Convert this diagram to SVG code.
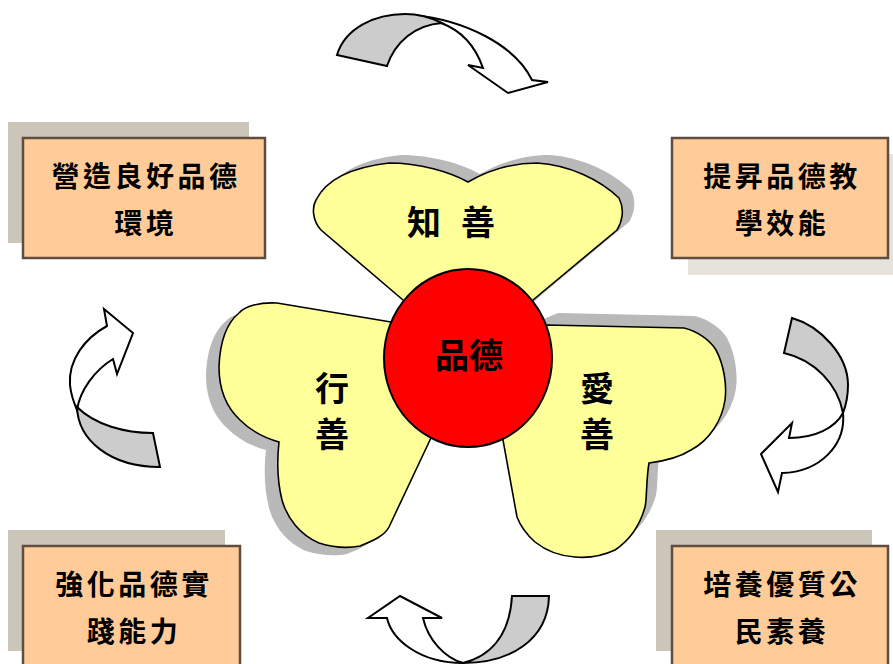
<svg xmlns="http://www.w3.org/2000/svg" xmlns:xlink="http://www.w3.org/1999/xlink" width="893" height="664" viewBox="0 0 893 664">
<style>
.box{fill:#FFCC99;stroke:#5f4e3f;stroke-width:2.5}
.sh1{fill:#ccc5b9}
.sh2{fill:#e6e3dd}
.bt{font-family:"Noto Sans CJK TC","Noto Sans CJK SC",sans-serif;font-weight:bold;font-size:28px;letter-spacing:3.5px;text-anchor:middle;dominant-baseline:central;fill:#000}
.pt{font-family:"Noto Sans CJK TC","Noto Sans CJK SC",sans-serif;font-weight:bold;font-size:34px;text-anchor:middle;dominant-baseline:central;fill:#000}
.petal{fill:#FFFF99;stroke:#000;stroke-width:1.6}
.psh{fill:#b9b9b9}
.ag{fill:#cccccc;stroke:#000;stroke-width:2;stroke-linejoin:miter}
.aw{fill:#ffffff;stroke:#000;stroke-width:2;stroke-linejoin:miter}
</style>
<defs>
<path id="pT" d="M403,300 L321,230 C312,220 312,207 316,200 C325,182 345,168 389,163 C420,163 450,172 468,182 C485,172 510,163 537,163 C570,165 600,180 619,198 C625,210 622,222 617,230 L533,300 L468,358 Z"/>
<path id="pL" d="M391,322 L277,303 C260,302 245,306 239,313 C228,322 220,340 219,367 C219,385 224,405 240,420 C252,432 265,438 279,442 C277,460 277,480 282,500 C287,518 300,535 319,543 C335,548 350,548 360,546 C375,540 385,535 389,527 L430,440 L468,358 Z"/>
<path id="pR" d="M547,325 L684,328 C697,331 710,340 716,350 C724,365 727,385 725,400 C722,420 710,440 691,450 C680,457 665,461 649,463 C646,480 647,500 645,507 C640,525 630,540 615,550 C600,557 585,558 575,557 C560,556 545,550 535,542 C525,533 520,525 517,517 L503,440 L468,358 Z"/>
</defs>

<g id="connectors">
  <g id="arrow-top">
    <path class="aw" d="M413,15 C465,20 515,45 532,80 L548,82 L508,93 L468,65 L483,68 C475,45 460,30 441,23 Z"/>
    <path class="ag" d="M337,55 C345,28 375,14 405,14 C420,14 432,18 442,23 C415,25 395,42 387,66 Z"/>
  </g>
  <g id="arrow-right">
    <path class="aw" d="M843,413 C846,445 820,472 782,473 L778,492 L761,454 L792,423 L789,438 C815,438 835,428 843,413 Z"/>
    <path class="ag" d="M792,318 C820,326 848,355 848,385 C848,395 846,405 843,413 C838,385 815,360 784,353 Z"/>
  </g>
  <g id="arrow-bottom">
    <path class="aw" d="M387,618 C392,640 420,663 463,663 C445,658 428,640 423,618 L442,618 L400,596 L368,618 Z"/>
    <path class="ag" d="M512,596 L549,596 C548,640 510,663 463,663 C495,655 510,630 512,596 Z"/>
  </g>
  <g id="arrow-left">
    <path class="aw" d="M107,326 C85,338 68,360 70,385 C71,395 74,403 77,410 C80,390 95,370 113,359 L117,374 L133,333 L104,309 Z"/>
    <path class="ag" d="M77,407 C78,440 110,467 160,467 L153,433 C125,433 95,425 77,407 Z"/>
  </g>
</g>

<g id="box-tl">
  <rect class="sh1" x="8" y="122" width="241" height="121"/>
  <rect class="box" x="23" y="138" width="242" height="120"/>
  <text class="bt" x="146" y="175">營造良好品德</text>
  <text class="bt" x="146" y="222">環境</text>
</g>
<g id="box-tr">
  <rect class="sh2" x="688" y="154" width="205" height="121"/>
  <rect class="box" x="672" y="138" width="216" height="120"/>
  <text class="bt" x="782" y="175">提昇品德教</text>
  <text class="bt" x="782" y="222">學效能</text>
</g>
<g id="box-bl">
  <rect class="sh1" x="8" y="530" width="217" height="121"/>
  <rect class="box" x="23" y="546" width="217" height="130"/>
  <text class="bt" x="134" y="583">強化品德實</text>
  <text class="bt" x="134" y="630">踐能力</text>
</g>
<g id="box-br">
  <rect class="sh1" x="656" y="530" width="216" height="121"/>
  <rect class="box" x="672" y="546" width="216" height="130"/>
  <text class="bt" x="782" y="583">培養優質公</text>
  <text class="bt" x="782" y="630">民素養</text>
</g>

<g id="petal-shadows">
  <use xlink:href="#pT" class="psh" transform="translate(12,-8)"/>
  <use xlink:href="#pR" class="psh" transform="translate(11,-12)"/>
  <use xlink:href="#pL" class="psh" transform="translate(-13,8)"/>
</g>
<g id="petal-top">
  <use xlink:href="#pT" class="petal"/>
  <text class="pt" x="461" y="220" style="letter-spacing:20px">知善</text>
</g>
<g id="petal-left">
  <use xlink:href="#pL" class="petal"/>
  <text class="pt" x="332" y="386">行</text>
  <text class="pt" x="332" y="432">善</text>
</g>
<g id="petal-right">
  <use xlink:href="#pR" class="petal"/>
  <text class="pt" x="597" y="386">愛</text>
  <text class="pt" x="597" y="432">善</text>
</g>
<g id="center">
  <ellipse cx="468" cy="358" rx="84" ry="89" fill="#FF0000" stroke="#000" stroke-width="2"/>
  <text class="pt" x="469" y="353">品德</text>
</g>
</svg>
